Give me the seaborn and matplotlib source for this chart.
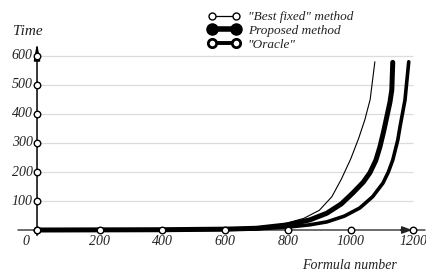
import matplotlib
matplotlib.use("Agg")
import matplotlib.pyplot as plt
from matplotlib.lines import Line2D
import seaborn as sns

# ── Data ───────────────────────────────────────────────────────────────────
best_x = [0, 200, 400, 600, 700, 760, 800, 850, 900, 940, 970, 1000, 1025, 1045, 1062, 1077]
best_y = [0, 0.5, 1, 3, 7, 14, 25, 40, 68, 115, 175, 245, 315, 380, 450, 580]

prop_x = [0, 200, 400, 600, 700, 800, 870, 924, 970, 1007, 1040, 1061, 1080, 1093, 1105, 1115, 1125, 1131, 1134]
prop_y = [0, 0.5, 1, 3, 6, 18, 35, 58, 90, 128, 165, 197, 240, 286, 340, 390, 440, 483, 578]

orac_x = [0, 200, 400, 600, 700, 800, 870, 924, 980, 1029, 1070, 1103, 1120, 1134, 1150, 1157, 1173, 1185]
orac_y = [0, 0.5, 1, 2, 4, 10, 18, 28, 48, 76, 115, 162, 200, 241, 310, 355, 448, 580]

x_ticks = [0, 200, 400, 600, 800, 1000, 1200]
y_ticks = [0, 100, 200, 300, 400, 500, 600]
labels = ['"Best fixed" method', 'Proposed method', '"Oracle"']

# ── Style ──────────────────────────────────────────────────────────────────
sns.set_theme(style="white")
plt.rcParams["font.family"] = ["Liberation Serif", "DejaVu Serif"]
FONT = dict(style="italic", color="#222222")

fig = plt.figure(figsize=(4.26, 2.77), dpi=100)
ax = fig.add_axes([0, 0, 1, 1])
ax.set_xlim(-118, 1240)
ax.set_ylim(-162, 793)
ax.axis("off")

# gridlines
ax.hlines(y_ticks[1:], 0, 1200, color="#dcdcdc", lw=0.9, zorder=0)

# curves
sns.lineplot(x=best_x, y=best_y, ax=ax, color="black", lw=0.8, sort=False, zorder=3)
sns.lineplot(x=prop_x, y=prop_y, ax=ax, color="black", lw=3.6, sort=False, zorder=3)
sns.lineplot(x=orac_x, y=orac_y, ax=ax, color="black", lw=2.6, sort=False, zorder=3)

# axes with arrows
ax.annotate("", xy=(0, 655), xytext=(0, -28),
            arrowprops=dict(arrowstyle="-|>,head_length=1.0,head_width=0.18",
                            lw=1.1, color="black", mutation_scale=10), zorder=4)
ax.plot([-60, 1236], [0, 0], color="#444444", lw=1.1, zorder=2)
ax.annotate("", xy=(1205, 0), xytext=(1150, 0),
            arrowprops=dict(arrowstyle="-|>,head_length=0.6,head_width=0.22",
                            lw=1.1, color="#222222", mutation_scale=10), zorder=4)

# tick circles
ax.scatter([0] * len(y_ticks), y_ticks, s=22, facecolor="white", edgecolor="black",
           linewidth=1.0, zorder=5)
ax.scatter(x_ticks, [0] * len(x_ticks), s=22, facecolor="white", edgecolor="black",
           linewidth=1.0, zorder=5)

# tick labels
for v in y_ticks[1:]:
    ax.text(-14, v, str(v), ha="right", va="center", fontsize=10, **FONT)
ax.text(-35, -40, "0", ha="center", va="center", fontsize=10, **FONT)
for v in x_ticks[1:]:
    ax.text(v, -40, str(v), ha="center", va="center", fontsize=10, **FONT)

ax.text(-28, 683, "Time", ha="center", va="center", fontsize=11, **FONT)
ax.text(997, -121, "Formula number", ha="center", va="center", fontsize=10, **FONT)

# legend
handles = [
    Line2D([], [], color="black", lw=0.9, marker="o", ms=5, mfc="white", mec="black", mew=1.0),
    Line2D([], [], color="black", lw=4.0, marker="o", ms=8, mfc="black", mec="black"),
    Line2D([], [], color="black", lw=2.8, marker="o", ms=6, mfc="white", mec="black", mew=2.0),
]
leg = ax.legend(handles, labels, loc="upper left", bbox_to_anchor=(0.470, 0.988),
                frameon=False, numpoints=2, handlelength=2.4, handletextpad=0.6,
                labelspacing=0.1, borderaxespad=0.2,
                prop=dict(family="Liberation Serif", style="italic", size=9.5))
for t in leg.get_texts():
    t.set_color("#222222")

fig.savefig("out.png", dpi=100)
